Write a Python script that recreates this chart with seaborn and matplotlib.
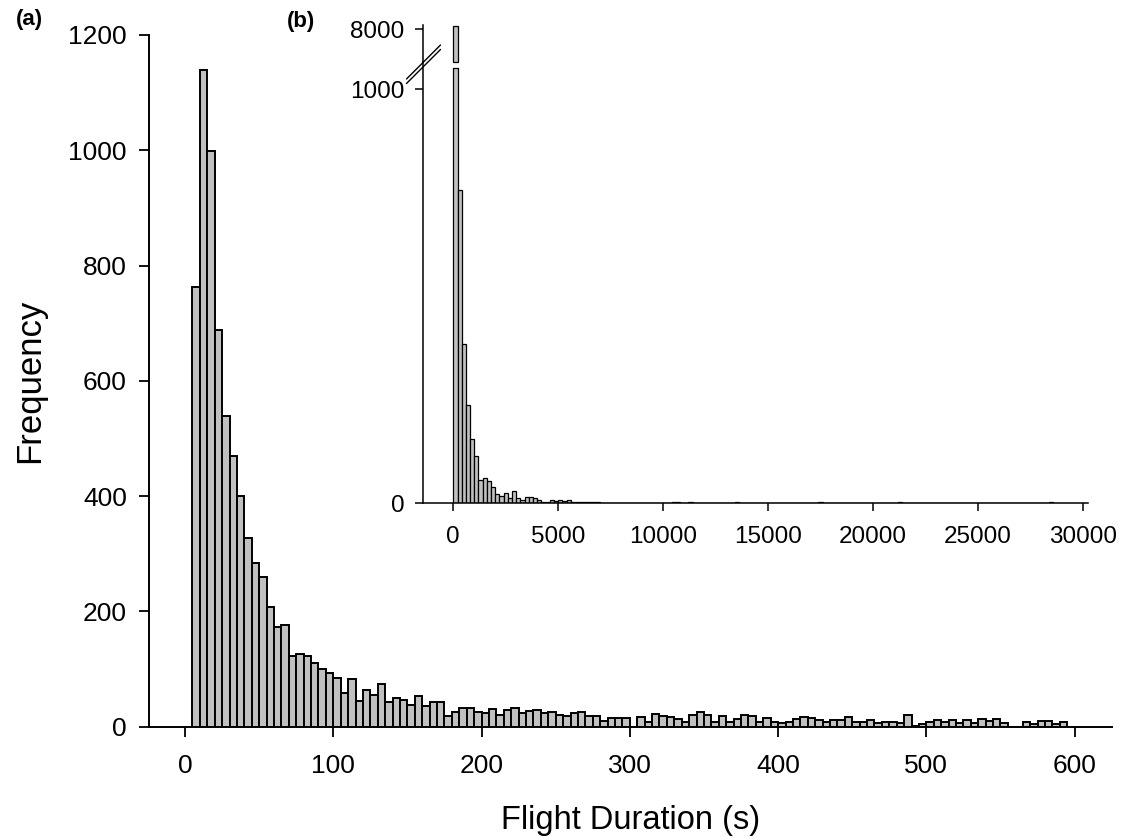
import numpy as np
import pandas as pd
import matplotlib
matplotlib.use("Agg")
import matplotlib.pyplot as plt
import seaborn as sns

# Flight durations, 5 s bins from 5 s to 595 s (panel a)
main_bin_start = np.arange(5, 595, 5)
main_counts = [
    763, 1139, 999, 688, 539, 469, 400, 327, 284, 260,
    207, 173, 176, 123, 126, 122, 110, 100, 93, 85,
    58, 83, 44, 64, 55, 74, 42, 50, 46, 38,
    53, 36, 43, 43, 19, 26, 32, 32, 26, 23,
    31, 21, 29, 32, 24, 27, 29, 23, 25, 21,
    18, 24, 25, 19, 18, 10, 15, 15, 15, 0,
    17, 9, 22, 18, 16, 13, 9, 21, 25, 20,
    8, 18, 8, 14, 20, 18, 8, 15, 9, 6,
    9, 13, 16, 15, 11, 8, 12, 12, 16, 9,
    8, 12, 6, 9, 9, 6, 21, 1, 4, 8,
    12, 8, 11, 6, 11, 7, 14, 10, 13, 6,
    0, 0, 9, 5, 10, 10, 4, 8,
]

# Full range of durations, 200 s bins (panel b)
inset_bin_start = [
    0, 200, 400, 600, 800, 1000, 1200, 1400, 1600, 1800,
    2000, 2200, 2400, 2600, 2800, 3000, 3200, 3400, 3600, 3800,
    4000, 4200, 4400, 4600, 4800, 5000, 5200, 5400, 5600, 5800,
    6000, 6200, 6400, 6600, 6800, 10400, 10600, 11200, 13400, 17400,
    21200, 28400,
]
inset_counts = [
    8047, 756, 385, 237, 155, 115, 56, 61, 53, 39,
    22, 18, 25, 14, 30, 14, 8, 15, 15, 12,
    8, 4, 4, 8, 5, 9, 5, 7, 3, 2,
    4, 4, 2, 3, 2, 2, 2, 2, 2, 2,
    2, 2,
]

main_width = 5
inset_width = 200
main_xticks = [0, 100, 200, 300, 400, 500, 600]
main_yticks = [0, 200, 400, 600, 800, 1000, 1200]
inset_xticks = [0, 5000, 10000, 15000, 20000, 25000, 30000]

sns.set_style("ticks")
plt.rcParams["font.family"] = ["Liberation Sans", "DejaVu Sans"]
plt.rcParams.update({
    "text.color": "black",
    "axes.labelcolor": "black",
    "axes.edgecolor": "black",
    "xtick.color": "black",
    "ytick.color": "black",
})

BAR = "#c0c0c0"
W, H = 1122, 839


def px_rect(left, top, right, bottom):
    return [left / W, 1 - bottom / H, (right - left) / W, (bottom - top) / H]


main_df = pd.DataFrame({
    "duration": np.asarray(main_bin_start, dtype=float) + main_width / 2,
    "count": np.asarray(main_counts, dtype=float),
})
inset_df = pd.DataFrame({
    "duration": np.asarray(inset_bin_start, dtype=float) + inset_width / 2,
    "count": np.asarray(inset_counts, dtype=float),
})

fig = plt.figure(figsize=(W / 100, H / 100), dpi=100)

# ---- panel (a) ----
ax = fig.add_axes(px_rect(149, 35, 1111.7, 726.7))
sns.histplot(
    data=main_df, x="duration", weights="count",
    binwidth=main_width, binrange=(main_bin_start[0], main_bin_start[-1] + main_width),
    ax=ax, color=BAR, edgecolor="black", linewidth=1.4, alpha=1,
)
ax.set_xlim(-24.3, 625)
ax.set_ylim(0, 1200)
ax.set_xticks(main_xticks)
ax.set_yticks(main_yticks)
ax.tick_params(axis="both", labelsize=19, length=7, width=1.3, direction="out")
ax.tick_params(axis="y", pad=9)
ax.tick_params(axis="x", pad=13)
for s in ("top", "right"):
    ax.spines[s].set_visible(False)
for s in ("left", "bottom"):
    ax.spines[s].set_linewidth(1.4)
ax.set_xlabel("Flight Duration (s)", fontsize=23.5, labelpad=19)
ax.set_ylabel("Frequency", fontsize=25, labelpad=16)

# ---- panel (b): broken y axis ----
ax_lo = fig.add_axes(px_rect(423.3, 68.3, 1088.3, 503.3))
ax_hi = fig.add_axes(px_rect(423.3, 25, 1088.3, 61.7))
lo_lim = (0, 1050)
hi_lim = (7509, 8065)

for a, lim in ((ax_lo, lo_lim), (ax_hi, hi_lim)):
    sns.histplot(
        data=inset_df, x="duration", weights="count",
        binwidth=inset_width, binrange=(0, inset_bin_start[-1] + inset_width),
        ax=a, color=BAR, edgecolor="black", linewidth=0.9, alpha=1,
    )
    a.set_xlim(-1430, 30260)
    a.set_ylim(*lim)
    a.set_xlabel("")
    a.set_ylabel("")
    a.patch.set_alpha(0)
    for s in ("top", "right"):
        a.spines[s].set_visible(False)
    for s in ("left", "bottom"):
        a.spines[s].set_linewidth(1.1)
    a.tick_params(axis="both", labelsize=17.5, length=5.5, width=1.1, direction="out")

ax_lo.set_yticks([0, 1000])
ax_lo.set_xticks(inset_xticks)
ax_lo.tick_params(axis="x", pad=11)
ax_lo.tick_params(axis="y", pad=8)
ax_lo.spines["left"].set_bounds(0, 1066)

ax_hi.set_yticks([8000])
ax_hi.tick_params(axis="y", pad=8)
ax_hi.set_xticks([])
ax_hi.spines["bottom"].set_visible(False)

# close the bar outlines where the axis is broken
tall = [(s, s + inset_width) for s, c in zip(inset_bin_start, inset_counts) if c > lo_lim[1]]
for x0, x1 in tall:
    ax_lo.plot([x0, x1], [lo_lim[1]] * 2, color="black", lw=0.9, clip_on=False)
    ax_hi.plot([x0, x1], [hi_lim[0]] * 2, color="black", lw=0.9, clip_on=False)

# break marks on the y axis
for dy in (0, 4.5):
    xs = np.array([406.5, 440.5]) / W
    ys = 1 - (np.array([79.0, 45.0]) + dy) / H
    fig.add_artist(plt.Line2D(xs, ys, color="black", lw=1.0, transform=fig.transFigure))

# panel letters
fig.text(16 / W, 1 - 19 / H, "(a)", fontsize=16, fontweight="bold", va="center", ha="left")
fig.text(287 / W, 1 - 21 / H, "(b)", fontsize=16, fontweight="bold", va="center", ha="left")

fig.savefig("out.png", dpi=100)
